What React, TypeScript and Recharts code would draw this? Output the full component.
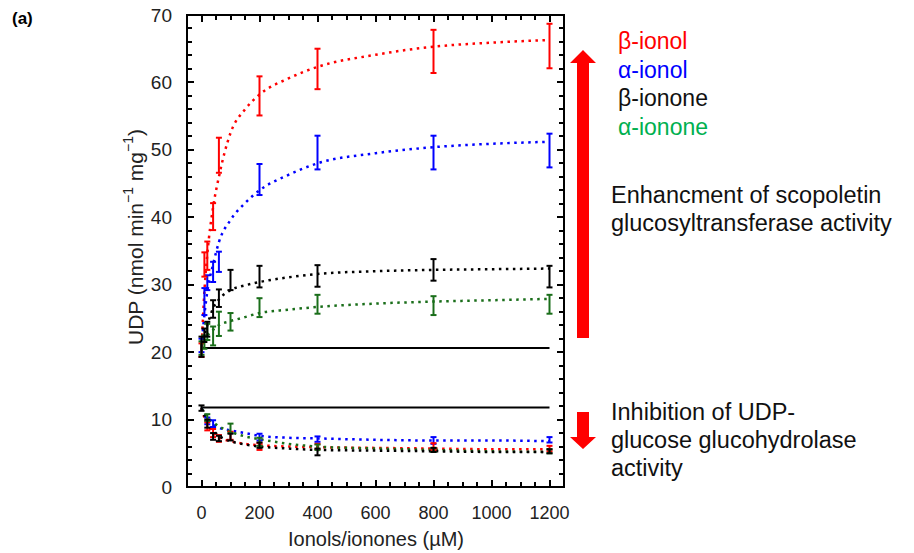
import React from "react";
import {
  ComposedChart,
  ErrorBar,
  Line,
  ReferenceLine,
  Scatter,
  XAxis,
  YAxis,
} from "recharts";

const FONT = "'Liberation Sans', Arial, sans-serif";

// x ticks (µM) and y ticks (UDP)
const xTicks = [
  0, 50, 100, 150, 200, 250, 300, 350, 400, 450, 500, 550, 600, 650, 700, 750,
  800, 850, 900, 950, 1000, 1050, 1100, 1150, 1200,
];
const yTicks = [
  0, 2, 4, 6, 8, 10, 12, 14, 16, 18, 20, 22, 24, 26, 28, 30, 32, 34, 36, 38,
  40, 42, 44, 46, 48, 50, 52, 54, 56, 58, 60, 62, 64, 66, 68, 70,
];
const xDomain = [-50, 1250];
const yDomain = [0, 70];

// fitted curves (dotted)
const fitX = [0, 10, 20, 40, 60, 100, 150, 200, 300, 400, 600, 800, 1000, 1200];
const betaIonolFit = [20.3, 29, 34.5, 41.5, 46, 52.5, 56, 58.2, 60.6, 62.3, 64.1, 65.3, 65.9, 66.3];
const alphaIonolFit = [21, 25.5, 29, 33, 36.3, 39.6, 42.1, 44.0, 46.3, 48.0, 49.5, 50.4, 50.9, 51.2];
const betaIononeFit = [20.8, 22.5, 24, 26.5, 27.8, 29.2, 29.9, 30.4, 31.1, 31.6, 32.0, 32.2, 32.3, 32.4];
const alphaIononeFit = [20.6, 21.5, 22.4, 23.3, 24.0, 24.6, 25.2, 25.8, 26.3, 26.7, 27.2, 27.5, 27.7, 27.9];

const betaIonolLowFit = [11.7, 10.3, 9.3, 8.1, 7.4, 6.8, 6.4, 6.2, 6.0, 5.9, 5.8, 5.7, 5.6, 5.6];
const alphaIonolLowFit = [11.7, 10.9, 10.2, 9.3, 8.8, 8.4, 8.0, 7.6, 7.3, 7.2, 7.0, 6.9, 6.9, 6.8];
const betaIononeLowFit = [11.7, 10.6, 9.6, 8.4, 7.6, 6.8, 6.3, 6.0, 5.7, 5.5, 5.4, 5.3, 5.2, 5.2];
const alphaIononeLowFit = [11.7, 11.0, 10.4, 9.6, 9.0, 8.2, 7.5, 7.1, 6.4, 6.0, 5.7, 5.5, 5.3, 5.2];

// measured points (mean, sd) - scopoletin glucosyltransferase
const betaIonolX = [0, 10, 20, 40, 60, 200, 400, 800, 1200];
const betaIonolY = [20.3, 33.0, 34.3, 40.1, 49.2, 58.0, 62.0, 64.6, 65.4];
const betaIonolErr = [1.0, 1.8, 2.1, 2.0, 2.6, 2.9, 3.0, 3.2, 3.3];

const alphaIonolX = [0, 10, 20, 40, 60, 200, 400, 800, 1200];
const alphaIonolY = [21.0, 27.5, 30.3, 31.9, 33.4, 45.6, 49.6, 49.6, 49.9];
const alphaIonolErr = [1.0, 2.0, 1.1, 1.5, 1.5, 2.3, 2.5, 2.5, 2.5];

const betaIononeX = [0, 10, 20, 40, 60, 100, 200, 400, 800, 1200];
const betaIononeY = [20.8, 22.5, 23.4, 26.4, 28.0, 30.7, 31.2, 31.3, 32.2, 31.2];
const betaIononeErr = [1.5, 1.0, 1.1, 1.3, 1.3, 1.5, 1.6, 1.6, 1.6, 1.6];

const alphaIononeX = [0, 10, 20, 40, 60, 100, 200, 400, 800, 1200];
const alphaIononeY = [20.6, 21.5, 23.0, 22.4, 24.2, 24.5, 26.6, 27.1, 26.9, 27.1];
const alphaIononeErr = [1.0, 1.0, 1.2, 1.4, 1.8, 1.3, 1.4, 1.4, 1.4, 1.4];

// measured points - UDP-glucose glucohydrolase
const betaIonolLowX = [20, 40, 60, 100, 200, 400, 800, 1200];
const betaIonolLowY = [9.0, 8.0, 7.2, 7.6, 6.0, 6.0, 6.0, 5.7];
const betaIonolLowErr = [0.6, 0.6, 0.5, 0.6, 0.5, 0.4, 0.5, 0.4];

const alphaIonolLowX = [20, 40, 200, 400, 800, 1200];
const alphaIonolLowY = [9.8, 9.4, 7.4, 7.1, 6.9, 7.0];
const alphaIonolLowErr = [0.5, 0.5, 0.5, 0.4, 0.5, 0.4];

const betaIononeLowX = [0, 20, 40, 60, 100, 200, 400, 800, 1200];
const betaIononeLowY = [11.7, 9.4, 7.5, 7.2, 7.4, 6.2, 5.2, 5.5, 5.3];
const betaIononeLowErr = [0.4, 0.6, 0.5, 0.4, 0.5, 0.4, 0.5, 0.3, 0.3];

const alphaIononeLowX = [20, 100, 200, 400, 800, 1200];
const alphaIononeLowY = [10.3, 8.7, 6.7, 5.9, 5.5, 5.3];
const alphaIononeLowErr = [0.5, 0.7, 0.6, 0.4, 0.3, 0.3];

// control levels (no additive)
const controlUpper = 20.6;
const controlLower = 11.8;
const controlFrom = 0;
const controlTo = 1200;

const RED = "#ff0000";
const BLUE = "#0000ff";
const BLACK = "#000000";
const GREEN = "#1a6e1a";

// plot box in page pixels (chart margins are derived from it)
const W = 914;
const H = 553;
const BOX = { left: 187, top: 15, right: 564, bottom: 487 };

const pts = (xs: number[], ys: number[], es?: number[]) =>
  xs.map((x, i) => ({ x, y: ys[i], e: es ? es[i] : 0 }));

const px = (v: number) =>
  BOX.left + ((v - xDomain[0]) / (xDomain[1] - xDomain[0])) * (BOX.right - BOX.left);
const py = (v: number) =>
  BOX.bottom - ((v - yDomain[0]) / (yDomain[1] - yDomain[0])) * (BOX.bottom - BOX.top);

const renderBottomTick = (props: any) => {
  const { x, y, payload } = props;
  if (payload.value % 200 !== 0) return <g />;
  return (
    <text x={x} y={y + 26} textAnchor="middle" dominantBaseline="central"
      fontSize={18} fontFamily={FONT} fill="#222">
      {payload.value}
    </text>
  );
};

const renderLeftTick = (props: any) => {
  const { x, y, payload } = props;
  if (payload.value % 10 !== 0) return <g />;
  return (
    <text x={x - 15} y={y} textAnchor="end" dominantBaseline="central"
      fontSize={19} fontFamily={FONT} fill="#222">
      {payload.value}
    </text>
  );
};

const noMarker = () => <g />;

const fits = [
  { key: "ai", data: alphaIonolFit, color: BLUE },
  { key: "bi", data: betaIonolFit, color: RED },
  { key: "an", data: alphaIononeFit, color: GREEN },
  { key: "bn", data: betaIononeFit, color: BLACK },
  { key: "ail", data: alphaIonolLowFit, color: BLUE },
  { key: "bil", data: betaIonolLowFit, color: RED },
  { key: "anl", data: alphaIononeLowFit, color: GREEN },
  { key: "bnl", data: betaIononeLowFit, color: BLACK },
];

const points = [
  { key: "ai", data: pts(alphaIonolX, alphaIonolY, alphaIonolErr), color: BLUE },
  { key: "bi", data: pts(betaIonolX, betaIonolY, betaIonolErr), color: RED },
  { key: "an", data: pts(alphaIononeX, alphaIononeY, alphaIononeErr), color: GREEN },
  { key: "bn", data: pts(betaIononeX, betaIononeY, betaIononeErr), color: BLACK },
  { key: "ail", data: pts(alphaIonolLowX, alphaIonolLowY, alphaIonolLowErr), color: BLUE },
  { key: "bil", data: pts(betaIonolLowX, betaIonolLowY, betaIonolLowErr), color: RED },
  { key: "anl", data: pts(alphaIononeLowX, alphaIononeLowY, alphaIononeLowErr), color: GREEN },
  { key: "bnl", data: pts(betaIononeLowX, betaIononeLowY, betaIononeLowErr), color: BLACK },
];

const legend = [
  { label: "β-ionol", color: "#ff0000" },
  { label: "α-ionol", color: "#0000ff" },
  { label: "β-ionone", color: "#111111" },
  { label: "α-ionone", color: "#00b050" },
];

const blk = (left: number, top: number, width: number, height: number, key: string) => (
  <div key={key} style={{ position: "absolute", left, top, width, height, background: "#000" }} />
);

// box and inward ticks on all four sides (html blocks)
const Frame = () => {
  const t = 2;
  const items: React.ReactNode[] = [
    blk(BOX.left - 1, BOX.top - 1, BOX.right - BOX.left + t, t, "top"),
    blk(BOX.left - 1, BOX.bottom - 1, BOX.right - BOX.left + t, t, "bottom"),
    blk(BOX.left - 1, BOX.top - 1, t, BOX.bottom - BOX.top + t, "left"),
    blk(BOX.right - 1, BOX.top - 1, t, BOX.bottom - BOX.top + t, "right"),
  ];
  xTicks.forEach((v) => {
    const len = v % 200 === 0 ? 7 : 5;
    const x = Math.round(px(v)) - 1;
    items.push(blk(x, BOX.bottom - len, 2, len, `xb${v}`));
    items.push(blk(x, BOX.top, 2, len, `xt${v}`));
  });
  yTicks.forEach((v) => {
    const len = v % 10 === 0 ? 7 : 5;
    const y = Math.round(py(v)) - 1;
    items.push(blk(BOX.left, y, len, 2, `yl${v}`));
    items.push(blk(BOX.right - len, y, len, 2, `yr${v}`));
  });
  return <>{items}</>;
};

export default function App() {
  return (
    <div style={{ position: "absolute", left: 0, top: 0, width: W, height: H, background: "#fff" }}>
      <ComposedChart width={W} height={H}
        margin={{ top: BOX.top, right: W - BOX.right, bottom: H - BOX.bottom - 40, left: BOX.left - 60 }}>
        <XAxis type="number" dataKey="x" domain={xDomain} allowDataOverflow ticks={xTicks}
          interval={0} tickSize={0} tickMargin={0} tickLine={false} tick={renderBottomTick}
          height={40} axisLine={false} />
        <YAxis type="number" dataKey="y" domain={yDomain} allowDataOverflow ticks={yTicks}
          interval={0} tickSize={0} tickMargin={0} tickLine={false} tick={renderLeftTick}
          width={60} axisLine={false} />

        <ReferenceLine segment={[{ x: controlFrom, y: controlUpper }, { x: controlTo, y: controlUpper }]}
          stroke="#000" strokeWidth={2} />
        <ReferenceLine segment={[{ x: controlFrom, y: controlLower }, { x: controlTo, y: controlLower }]}
          stroke="#000" strokeWidth={2} />

        {fits.map((f) => (
          <Line key={`fit-${f.key}`} data={pts(fitX, f.data)} dataKey="y" type="monotone"
            stroke={f.color} strokeWidth={2.5} strokeDasharray="2.5 4.5" dot={false}
            activeDot={false} isAnimationActive={false} />
        ))}

        {points.map((p) => (
          <Scatter key={`pt-${p.key}`} data={p.data} dataKey="y" shape={noMarker}
            isAnimationActive={false}>
            <ErrorBar dataKey="e" direction="y" width={3} strokeWidth={2} stroke={p.color}
              isAnimationActive={false} />
          </Scatter>
        ))}
      </ComposedChart>

      <svg width={W} height={H} style={{ position: "absolute", left: 0, top: 0, pointerEvents: "none" }}>
        <text x={12} y={24} fontSize={17} fontWeight="bold" fontFamily={FONT}>(a)</text>

        <text transform="translate(135,237) rotate(-90)" textAnchor="middle" dominantBaseline="central"
          fontSize={21} fontFamily={FONT} fill="#222">
          UDP (nmol min<tspan dy={-7} fontSize={14}>−1</tspan>
          <tspan dy={7}> mg</tspan><tspan dy={-7} fontSize={14}>−1</tspan><tspan dy={7}>)</tspan>
        </text>
        <text x={376} y={539} textAnchor="middle" dominantBaseline="central" fontSize={20}
          fontFamily={FONT} fill="#222">
          Ionols/ionones (µM)
        </text>

        {legend.map((l, i) => (
          <text key={l.label} x={618} y={41 + i * 28.7} dominantBaseline="central" fontSize={23}
            fontFamily={FONT} fill={l.color}>
            {l.label}
          </text>
        ))}

        <polygon points="577,338 577,63 570,63 583,50 596,63 589,63 589,338" fill="#ff0000" />
        <polygon points="577,412 589,412 589,437 596,437 583,449 570,437 577,437" fill="#ff0000" />

        <g fontSize={23.5} fontFamily={FONT} fill="#111" dominantBaseline="central">
          <text x={611} y={195}>Enhancment of scopoletin</text>
          <text x={611} y={223}>glucosyltransferase activity</text>
          <text x={611} y={412}>Inhibition of UDP-</text>
          <text x={611} y={440}>glucose glucohydrolase</text>
          <text x={611} y={468}>activity</text>
        </g>
      </svg>

      <div style={{ position: "absolute", left: 0, top: 0, width: W, height: H, pointerEvents: "none" }}>
        <Frame />
      </div>
    </div>
  );
}
